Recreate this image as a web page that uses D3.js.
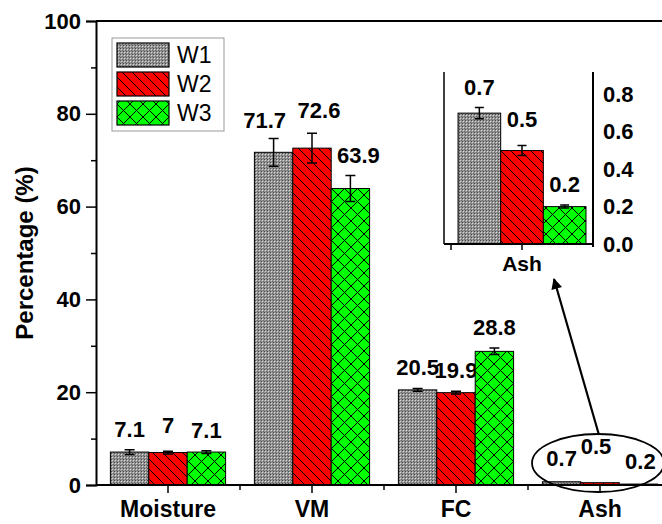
<!DOCTYPE html>
<html><head><meta charset="utf-8">
<script src="https://cdn.jsdelivr.net/npm/d3@7"></script>
<style>
body{margin:0;background:#fff}
svg{display:block;font-family:"Liberation Sans",Arial,sans-serif}
</style></head>
<body><svg id="c" width="662" height="524"></svg>
<script>
const categories = ["Moisture","VM","FC","Ash"];
const seriesNames = ["W1","W2","W3"];
const W1 = [7.1, 71.7, 20.5, 0.7];
const W2 = [7.0, 72.6, 19.9, 0.5];
const W3 = [7.1, 63.9, 28.8, 0.2];
const W1err = [0.5, 3.0, 0.3, 0.03];
const W2err = [0.3, 3.2, 0.3, 0.027];
const W3err = [0.3, 2.8, 0.7, 0.008];
const yTicks = [0,20,40,60,80,100];
const yMinorTicks = [10,30,50,70,90];
const insetCategory = ["Ash"];
const insetTicks = [0.0,0.2,0.4,0.6,0.8];

const values = [W1,W2,W3];
const errs = [W1err,W2err,W3err];
const fills = ["url(#pW1)","url(#pW2)","url(#pW3)"];
// small manual label nudges (as placed in the original figure)
const nudge = {"VM|W1":[-9,3],"VM|W2":[7,-2],"VM|W3":[8,0],"Moisture|W2":[0,-5],
               "Ash|W1":[0,-3],"Ash|W2":[-4,-16],"Ash|W3":[2,-2],"inset|W2":[0,-5]};

const svg = d3.select("#c");
const defs = svg.append("defs");
// patterns
const p1 = defs.append("pattern").attr("id","pW1").attr("patternUnits","userSpaceOnUse").attr("width",3).attr("height",3);
p1.append("rect").attr("width",3).attr("height",3).attr("fill","#959595");
p1.append("rect").attr("width",1).attr("height",1).attr("fill","#4a4a4a");
p1.append("rect").attr("x",1).attr("y",1).attr("width",1).attr("height",1).attr("fill","#d8d8d8");
p1.append("rect").attr("x",2).attr("y",2).attr("width",1).attr("height",1).attr("fill","#6a6a6a");
const p2 = defs.append("pattern").attr("id","pW2").attr("patternUnits","userSpaceOnUse").attr("width",10).attr("height",10);
p2.append("rect").attr("width",10).attr("height",10).attr("fill","#ff0000");
p2.append("path").attr("d","M-1,-1L11,11M-6,4L6,16M4,-6L16,6").attr("stroke","#000").attr("stroke-width",1);
const p3 = defs.append("pattern").attr("id","pW3").attr("patternUnits","userSpaceOnUse").attr("width",13).attr("height",13);
p3.append("rect").attr("width",13).attr("height",13).attr("fill","#00ff00");
p3.append("path").attr("d","M0,0L13,13M0,13L13,0M-1,12L1,14M12,-1L14,1M-1,1L1,-1M12,14L14,12").attr("stroke","#000").attr("stroke-width",1);

// main scales
const x = d3.scaleBand().domain(categories).range([96,672]).paddingInner(0.2).paddingOuter(0.1);
const xs = d3.scaleBand().domain(seriesNames).range([0,x.bandwidth()]);
const y = d3.scaleLinear().domain([0,100]).range([485,21]);

const g = svg.append("g");
seriesNames.forEach((s,si)=>{
  categories.forEach((c,ci)=>{
    const v = values[si][ci], e = errs[si][ci];
    const bx = x(c)+xs(s), bw = xs.bandwidth();
    g.append("rect").attr("x",bx).attr("y",y(v)).attr("width",bw).attr("height",y(0)-y(v))
      .attr("fill",fills[si]).attr("stroke","#000").attr("stroke-width",1);
    const cx = bx+bw/2;
    if (c !== "Ash") {
      g.append("path").attr("d",`M${cx},${y(v+e)}V${y(v-e)}M${cx-5},${y(v+e)}H${cx+5}M${cx-5},${y(v-e)}H${cx+5}`)
        .attr("stroke","#000").attr("stroke-width",1.5).attr("fill","none");
    }
    const n = nudge[c+"|"+s] || [0,0];
    g.append("text").attr("x",cx+n[0]).attr("y",y(v+e)-13+n[1]).attr("text-anchor","middle")
      .attr("font-size",22).attr("font-weight","bold").text(String(v));
  });
});

// y axis
const yAxis = d3.axisLeft(y).tickValues(yTicks).tickSize(10).tickPadding(5).tickFormat(d3.format("d"));
const ya = svg.append("g").attr("transform","translate(96,0)").call(yAxis);
ya.select(".domain").attr("stroke-width",2);
ya.selectAll(".tick line").attr("stroke-width",1.5);
ya.selectAll("text").attr("font-size",22).attr("font-weight","bold").attr("fill","#000");
const yaMinor = d3.axisLeft(y).tickValues(yMinorTicks).tickSize(5).tickFormat("");
svg.append("g").attr("transform","translate(96,0)").call(yaMinor).call(s=>s.select(".domain").remove())
  .selectAll(".tick line").attr("stroke-width",1.5);
svg.append("line").attr("x1",96).attr("x2",662).attr("y1",y(100)).attr("y2",y(100)).attr("stroke","#000").attr("stroke-width",2);

// x axis
const xAxis = d3.axisBottom(x).tickSize(8).tickPadding(8);
const xa = svg.append("g").attr("transform",`translate(0,${y(0)})`).call(xAxis);
xa.select(".domain").attr("stroke-width",2).attr("d",`M96,0H672`);
xa.selectAll(".tick line").attr("stroke-width",1.5);
xa.selectAll("text").attr("font-size",23).attr("font-weight","bold").attr("fill","#000");
const bounds = categories.slice(1).map(c=>x(c)-x.step()*x.paddingInner()/2);
svg.append("g").selectAll("line").data(bounds).join("line")
  .attr("x1",d=>d).attr("x2",d=>d).attr("y1",y(0)).attr("y2",y(0)+5).attr("stroke","#000").attr("stroke-width",1.5);

// y label
svg.append("text").attr("transform",`translate(33,${(y(0)+y(100))/2}) rotate(-90)`)
  .attr("text-anchor","middle").attr("font-size",24).attr("font-weight","bold").text("Percentage (%)");

// legend
const lg = svg.append("g");
lg.append("rect").attr("x",112).attr("y",38).attr("width",112).attr("height",93).attr("fill","#fff").attr("stroke","#999").attr("stroke-width",1);
seriesNames.forEach((s,i)=>{
  lg.append("rect").attr("x",117).attr("y",43+i*29).attr("width",52).attr("height",24)
    .attr("fill",fills[i]).attr("stroke","#000").attr("stroke-width",1.2);
  lg.append("text").attr("x",177).attr("y",43+i*29+20).attr("font-size",23).text(s);
});

// ellipse + arrow annotation
svg.append("ellipse").attr("cx",598).attr("cy",463).attr("rx",66).attr("ry",29)
  .attr("fill","none").attr("stroke","#000").attr("stroke-width",1.8);
defs.append("marker").attr("id","ah").attr("viewBox","0 0 10 10").attr("refX",9).attr("refY",5)
  .attr("markerWidth",6).attr("markerHeight",5).attr("orient","auto")
  .append("path").attr("d","M0,0L10,5L0,10z").attr("fill","#000");
svg.append("line").attr("x1",599).attr("y1",435).attr("x2",554).attr("y2",279)
  .attr("stroke","#000").attr("stroke-width",2.2).attr("marker-end","url(#ah)");

// inset
const ix = d3.scaleBand().domain(insetCategory).range([444,593]).padding(0.076).align(0.667);
const ixs = d3.scaleBand().domain(seriesNames).range([0,ix.bandwidth()]);
const iy = d3.scaleLinear().domain([0,0.92]).range([244,72]);
const ig = svg.append("g");
const ai = categories.indexOf("Ash");
seriesNames.forEach((s,si)=>{
  const v = values[si][ai], e = errs[si][ai];
  const bx = ix("Ash")+ixs(s), bw = ixs.bandwidth(), cx = bx+bw/2;
  ig.append("rect").attr("x",bx).attr("y",iy(v)).attr("width",bw).attr("height",iy(0)-iy(v))
    .attr("fill",fills[si]).attr("stroke","#000").attr("stroke-width",1);
  ig.append("path").attr("d",`M${cx},${iy(v+e)}V${iy(v-e)}M${cx-4.5},${iy(v+e)}H${cx+4.5}M${cx-4.5},${iy(v-e)}H${cx+4.5}`)
    .attr("stroke","#000").attr("stroke-width",1.5).attr("fill","none");
  const n = nudge["inset|"+s] || [0,0];
  ig.append("text").attr("x",cx+n[0]).attr("y",iy(v+e)-13+n[1]).attr("text-anchor","middle")
    .attr("font-size",22).attr("font-weight","bold").text(d3.format(".1f")(v));
});
ig.append("line").attr("x1",444).attr("x2",444).attr("y1",iy(0.92)).attr("y2",iy(0)).attr("stroke","#000").attr("stroke-width",1.5);
const iyAxis = d3.axisRight(iy).tickValues(insetTicks).tickSize(0).tickPadding(10).tickFormat(d3.format(".1f"));
const iya = ig.append("g").attr("transform","translate(593,0)").call(iyAxis);
iya.select(".domain").attr("stroke-width",2).attr("d",`M0,${iy(0.92)}V${iy(0)+3}`);
iya.selectAll("text").attr("font-size",22).attr("font-weight","bold").attr("fill","#000");
const ixAxis = d3.axisBottom(ix).tickSize(6).tickPadding(6);
const ixa = ig.append("g").attr("transform",`translate(0,${iy(0)})`).call(ixAxis);
ixa.select(".domain").attr("stroke-width",2).attr("d","M444,0H593");
ixa.selectAll(".tick line").attr("stroke-width",1.5);
ixa.selectAll("text").attr("font-size",21).attr("font-weight","bold").attr("fill","#000");
const ib = (ix.range()[0]+ix("Ash"))/2;
ig.append("line").attr("x1",ib).attr("x2",ib).attr("y1",iy(0)).attr("y2",iy(0)+6).attr("stroke","#000").attr("stroke-width",1.5);
</script></body></html>
